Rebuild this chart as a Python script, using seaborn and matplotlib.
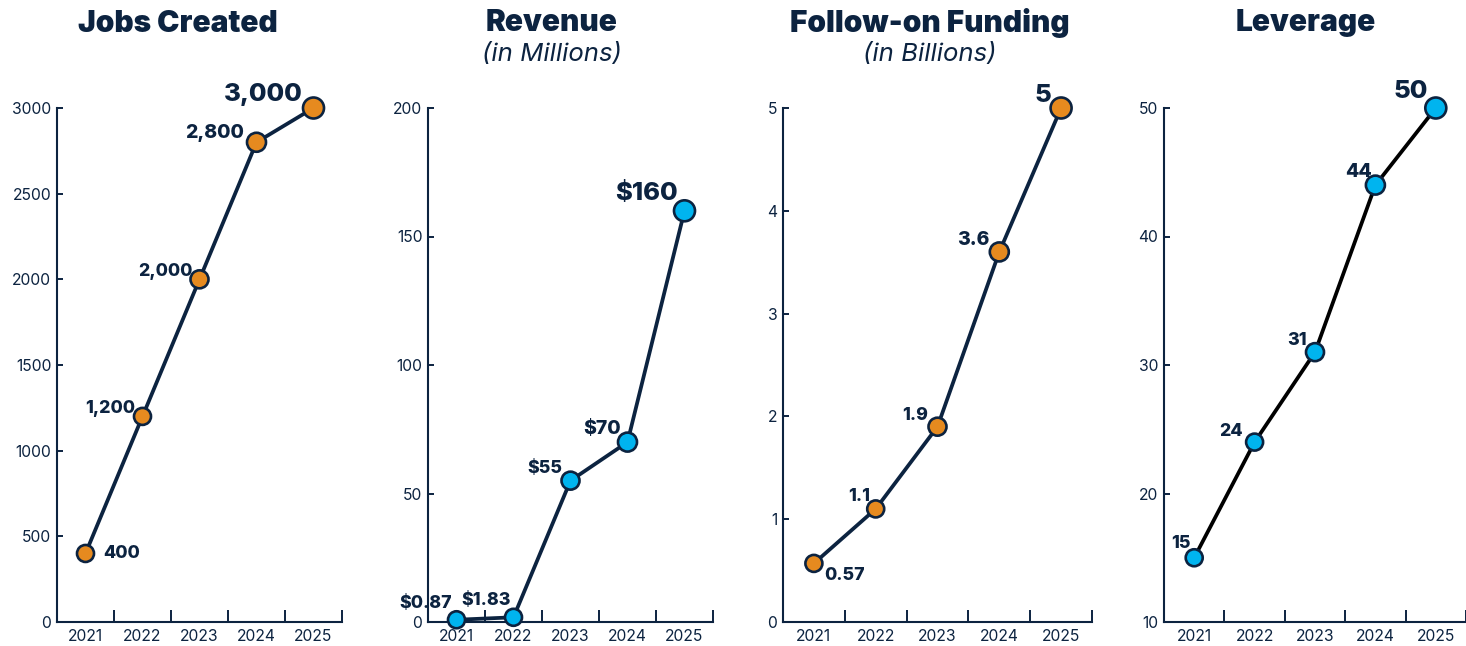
import matplotlib
matplotlib.use("Agg")
import matplotlib.pyplot as plt
import pandas as pd
import seaborn as sns
from matplotlib.ticker import FixedLocator

sns.set_theme(style="white")
plt.rcParams["font.family"] = ["Inter", "DejaVu Sans"]

# ---- data ----
years = ["2021", "2022", "2023", "2024", "2025"]
jobs = [400, 1200, 2000, 2800, 3000]
revenue = [0.87, 1.83, 55, 70, 160]
funding = [0.57, 1.1, 1.9, 3.6, 5]
leverage = [15, 24, 31, 44, 50]

titles = ["Jobs Created", "Revenue", "Follow-on Funding", "Leverage"]
subtitles = ["", "(in Millions)", "(in Billions)", ""]

# ---- styling ----
NAVY = "#0c2340"
ORANGE = "#e68a1f"
BLUE = "#00b4ef"
W, H = 1466, 646

label_sizes = [12.8, 12.8, 12.8, 14, 18.5]
marker_px = [17, 17, 18, 19, 21]

panels = [
    dict(values=jobs, fmt=lambda v: f"{v:,}", ylim=(0, 3000), yticks=range(0, 3001, 500),
         color=ORANGE, line=NAVY, box=(57, 342),
         offsets=[(18, 0, "left"), (-7, 8, "right"), (-7, 8, "right"), (-12, 9, "right"), (-11, 14, "right")]),
    dict(values=revenue, fmt=lambda v: f"${v:g}", ylim=(0, 200), yticks=range(0, 201, 50),
         color=BLUE, line=NAVY, box=(428, 713),
         offsets=[(-4, 16, "right"), (-3, 17, "right"), (-8, 12, "right"), (-7, 13, "right"), (-7, 17, "right")]),
    dict(values=funding, fmt=lambda v: f"{v:g}", ylim=(0, 5), yticks=range(0, 6),
         color=ORANGE, line=NAVY, box=(783, 1092),
         offsets=[(10, -12, "left"), (-6, 12, "right"), (-9, 11, "right"), (-10, 12, "right"), (-10, 12, "right")]),
    dict(values=leverage, fmt=lambda v: f"{v:g}", ylim=(10, 50), yticks=range(10, 51, 10),
         color=BLUE, line="#000000", box=(1164, 1466),
         offsets=[(-4, 14, "right"), (-12, 11, "right"), (-8, 12, "right"), (-4, 13, "right"), (-8, 16, "right")]),
]

title_pos = [(178, 24), (552, 23), (930, 23), (1306, 23)]
sub_y = 54
px = 0.72  # points per pixel at 100 dpi

fig = plt.figure(figsize=(W / 100, H / 100), dpi=100)
y_bottom, y_top = 622, 108

for i, p in enumerate(panels):
    x0, x1 = p["box"]
    ax = fig.add_axes([x0 / W, (H - y_bottom) / H, (x1 - x0) / W, (y_bottom - y_top) / H])
    df = pd.DataFrame({"year": years, "value": p["values"]})

    sns.lineplot(data=df, x="year", y="value", ax=ax, color=p["line"], linewidth=2.7,
                 errorbar=None, sort=False, clip_on=False, zorder=2)
    sns.scatterplot(data=df, x="year", y="value", ax=ax, color=p["color"],
                    s=[(d * px) ** 2 for d in marker_px], edgecolor=NAVY, linewidth=1.9,
                    clip_on=False, zorder=3, legend=False)

    for j, (yr, v) in enumerate(zip(years, p["values"])):
        dx, dy, ha = p["offsets"][j]
        ax.annotate(p["fmt"](v), xy=(j, v), xytext=(dx * px, dy * px), textcoords="offset points",
                    ha=ha, va="center", fontsize=label_sizes[j], fontweight="heavy", color=NAVY,
                    annotation_clip=False, zorder=4)

    ax.set_xlim(-0.5, 4.5)
    ax.set_ylim(*p["ylim"])
    ax.set_yticks(list(p["yticks"]))
    ax.set_xlabel("")
    ax.set_ylabel("")
    ax.xaxis.set_minor_locator(FixedLocator([0.5, 1.5, 2.5, 3.5, 4.5]))
    ax.tick_params(axis="x", which="major", length=0, pad=5, labelsize=11.3, labelcolor=NAVY)
    ax.tick_params(axis="x", which="minor", direction="in", length=8.5, width=1.4, color=NAVY,
                   bottom=True)
    ax.tick_params(axis="y", which="major", direction="in", length=4.5, width=1.4, color=NAVY,
                   left=True, pad=4, labelsize=11.3, labelcolor=NAVY)
    for side in ("top", "right"):
        ax.spines[side].set_visible(False)
    for side in ("left", "bottom"):
        ax.spines[side].set_color(NAVY)
        ax.spines[side].set_linewidth(1.5)
    ax.set_facecolor("none")
    ax.grid(False)

    tx, ty = title_pos[i]
    fig.text(tx / W, 1 - ty / H, titles[i], ha="center", va="center", fontsize=21.5,
             fontweight="black", color=NAVY)
    if subtitles[i]:
        fig.text(tx / W, 1 - sub_y / H, subtitles[i], ha="center", va="center", fontsize=18.5,
                 style="italic", color=NAVY)

fig.savefig("out.png", dpi=100, facecolor="white")
